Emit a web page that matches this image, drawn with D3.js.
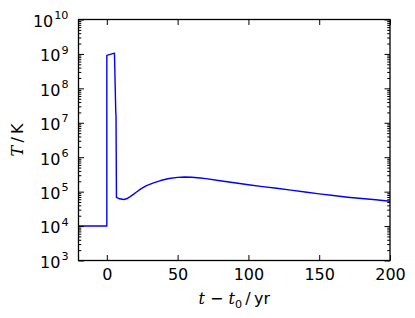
<!DOCTYPE html>
<html>
<head>
<meta charset="utf-8">
<script src="https://cdn.jsdelivr.net/npm/d3@7"></script>
<style>
  body { margin: 0; background: #fff; }
  text { font-family: "DejaVu Sans", sans-serif; fill: #000; }
</style>
</head>
<body>
<div id="chart"></div>
<script>
// time since t0 (yr) and temperature (K)
var times = [-20, 0, 0, 5.4, 6.3, 6.5, 6.8, 9, 12, 14, 16.5, 19, 21, 24, 28, 33, 38, 44, 50, 55, 60, 66, 70, 80, 90, 100, 110, 120, 130, 140, 150, 160, 170, 180, 190, 200];
var temps = [1e4, 1e4, 9.1e8, 1.05e9, 2.2e7, 1.5e7, 6.8e4, 6.2e4, 5.9e4, 6.2e4, 7.2e4, 8.5e4, 9.8e4, 1.2e5, 1.5e5, 1.8e5, 2.1e5, 2.4e5, 2.6e5, 2.65e5, 2.62e5, 2.5e5, 2.38e5, 2.08e5, 1.82e5, 1.58e5, 1.4e5, 1.25e5, 1.11e5, 9.8e4, 8.6e4, 7.7e4, 6.9e4, 6.3e4, 5.8e4, 5.25e4];
var xTicks = [0, 50, 100, 150, 200];
var yExponents = [3, 4, 5, 6, 7, 8, 9, 10];

var W = 415, H = 318;
var margin = {top: 19.5, right: 25, bottom: 57.5, left: 78.5};
var width = W - margin.left - margin.right;
var height = H - margin.top - margin.bottom;

var svg = d3.select("#chart").append("svg")
    .attr("width", W)
    .attr("height", H);

var g = svg.append("g")
    .attr("transform", "translate(" + margin.left + "," + margin.top + ")");

var x = d3.scaleLinear().domain([-20, 200]).range([0, width]);
var y = d3.scaleLog().domain([1e3, 1e10]).range([height, 0]);

var data = times.map(function(t, i) { return {t: t, T: temps[i]}; });

// the curve
g.append("path")
    .datum(data)
    .attr("fill", "none")
    .attr("stroke", "#0000ff")
    .attr("stroke-width", 1.4)
    .attr("stroke-linejoin", "round")
    .attr("d", d3.line().x(function(d) { return x(d.t); }).y(function(d) { return y(d.T); }));

// minor ticks for the log axis
var minor = [];
yExponents.slice(0, -1).forEach(function(e) {
    for (var k = 2; k <= 9; k++) minor.push(k * Math.pow(10, e));
});
var major = yExponents.map(function(e) { return Math.pow(10, e); });

// inward ticks on all four sides
function tickStyle(sel) {
    sel.select(".domain").remove();
    sel.selectAll("line").attr("stroke", "#000").attr("stroke-width", 1);
}

g.append("g").attr("transform", "translate(0," + height + ")")
    .call(d3.axisBottom(x).tickValues(xTicks).tickSize(-5.5).tickPadding(0).tickFormat(d3.format("d")))
    .call(tickStyle)
    .selectAll("text")
        .attr("font-size", 16)
        .attr("font-family", "DejaVu Sans")
        .attr("dy", null)
        .attr("y", 19);

g.append("g")
    .call(d3.axisTop(x).tickValues(xTicks).tickSize(-5.5).tickFormat(""))
    .call(tickStyle);

g.append("g")
    .call(d3.axisLeft(y).tickValues(major).tickSize(-5.5).tickFormat(""))
    .call(tickStyle);
g.append("g")
    .call(d3.axisLeft(y).tickValues(minor).tickSize(-2.8).tickFormat(""))
    .call(tickStyle);
g.append("g").attr("transform", "translate(" + width + ",0)")
    .call(d3.axisRight(y).tickValues(major).tickSize(-5.5).tickFormat(""))
    .call(tickStyle);
g.append("g").attr("transform", "translate(" + width + ",0)")
    .call(d3.axisRight(y).tickValues(minor).tickSize(-2.8).tickFormat(""))
    .call(tickStyle);

// y tick labels as 10^n
yExponents.forEach(function(e) {
    var t = g.append("text")
        .attr("x", -10)
        .attr("y", y(Math.pow(10, e)) + 7.3)
        .attr("text-anchor", "end")
        .attr("font-size", 16);
    t.append("tspan").text("10");
    t.append("tspan").attr("dx", 1).attr("dy", -7.7).attr("font-size", 11.2).text(e);
});

// frame
g.append("rect")
    .attr("width", width).attr("height", height)
    .attr("fill", "none").attr("stroke", "#000").attr("stroke-width", 1.3);

// axis labels
var xl = svg.append("text")
    .attr("x", margin.left + width / 2)
    .attr("y", 304)
    .attr("text-anchor", "middle")
    .attr("font-size", 16);
xl.append("tspan").attr("font-family", "DejaVu Serif").attr("font-style", "italic").text("t");
xl.append("tspan").text(" \u2212 ");
xl.append("tspan").attr("font-family", "DejaVu Serif").attr("font-style", "italic").text("t");
xl.append("tspan").attr("dy", 3.5).attr("font-size", 11.2).text("0");
xl.append("tspan").attr("dy", -3.5).text("\u2009/\u2009yr");

var yl = svg.append("text")
    .attr("transform", "translate(23," + (margin.top + height / 2) + ") rotate(-90)")
    .attr("text-anchor", "middle")
    .attr("font-size", 16);
yl.append("tspan").attr("font-family", "DejaVu Serif").attr("font-style", "italic").text("T");
yl.append("tspan").text("\u2009/\u2009K");
</script>
</body>
</html>
